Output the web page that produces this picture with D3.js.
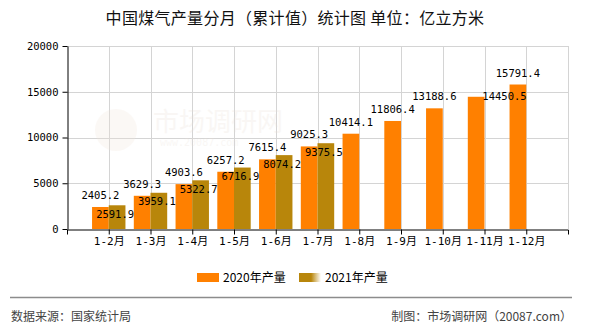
<!DOCTYPE html>
<html>
<head>
<meta charset="utf-8">
<script src="https://cdn.jsdelivr.net/npm/d3@7"></script>
<style>
  html, body { margin: 0; padding: 0; background: #fff; }
  svg { display: block; }
</style>
</head>
<body>
<svg id="chart" width="590" height="330"></svg>
<script>
const categories = ["1-2月","1-3月","1-4月","1-5月","1-6月","1-7月","1-8月","1-9月","1-10月","1-11月","1-12月"];
const values2020 = [2405.2,3629.3,4903.6,6257.2,7615.4,9025.3,10414.1,11806.4,13188.6,14450.5,15791.4];
const values2021 = [2591.9,3959.1,5322.7,6716.9,8074.2,9375.5];
const seriesNames = ["2020年产量","2021年产量"];
const yTicks = [0,5000,10000,15000,20000];
const titleText = "中国煤气产量分月（累计值）统计图 单位：亿立方米";
const sourceText = "数据来源：国家统计局";
const creditText = "制图：市场调研网（20087.com）";

(function () {
const colors = ["#FF8000", "#B8860B"];
const monoFont = "'DejaVu Sans Mono','Liberation Mono','Noto Sans CJK SC',monospace";
const cjkFont = "'Noto Sans CJK SC','DejaVu Sans',sans-serif";

const svg = d3.select("#chart");
const pL = 67, pR = 568, pT = 46, pB = 229;

const x = d3.scalePoint().domain(categories).range([pL, pR]).padding(1);
const y = d3.scaleLinear().domain([0, 20000]).range([pB, pT]);
const bw = x.step() * 0.4;

// defs
const defs = svg.append("defs");
const grad = defs.append("linearGradient").attr("id", "legGrad");
grad.append("stop").attr("offset", "0%").attr("stop-color", colors[1]);
grad.append("stop").attr("offset", "55%").attr("stop-color", colors[1]);
grad.append("stop").attr("offset", "100%").attr("stop-color", "#ffffff");

// title
svg.append("text").attr("x", 295).attr("y", 24).attr("text-anchor", "middle")
  .style("font-family", cjkFont).style("font-size", "16px").style("letter-spacing", "0.3px")
  .attr("fill", "#111").text(titleText);

// grid
const grid = svg.append("g").attr("stroke", "#d4d4d4").attr("stroke-width", 1);
yTicks.filter(t => t > 0).forEach(t => {
  grid.append("line").attr("x1", pL).attr("x2", pR)
    .attr("y1", Math.round(y(t)) + 0.5).attr("y2", Math.round(y(t)) + 0.5);
});
categories.forEach(c => {
  const xx = Math.round(x(c)) + 0.5;
  grid.append("line").attr("x1", xx).attr("x2", xx).attr("y1", pT).attr("y2", pB);
});
grid.append("line").attr("x1", pR + 0.5).attr("x2", pR + 0.5).attr("y1", pT).attr("y2", pB);

// watermark
const wm = svg.append("g").attr("opacity", 0.25);
wm.append("circle").attr("cx", 116).attr("cy", 130).attr("r", 21).attr("fill", "#f3e6da");
wm.append("text").attr("x", 153).attr("y", 131).style("font-family", cjkFont)
  .style("font-size", "26px").attr("fill", "#eadfd6").text("市场调研网");
wm.append("text").attr("x", 160).attr("y", 146).style("font-family", monoFont)
  .style("font-size", "10px").attr("fill", "#eadfd6").text("www.20087.com");

// bars
svg.append("g").selectAll("rect").data(values2020).join("rect")
  .attr("x", (d, i) => x(categories[i]) - bw)
  .attr("y", d => y(d)).attr("width", bw).attr("height", d => pB - y(d))
  .attr("fill", colors[0]);
svg.append("g").selectAll("rect").data(values2021).join("rect")
  .attr("x", (d, i) => x(categories[i]))
  .attr("y", d => y(d)).attr("width", bw).attr("height", d => pB - y(d))
  .attr("fill", colors[1]);

// axes
const yAxis = svg.append("g").attr("transform", `translate(${pL + 0.5},0)`)
  .call(d3.axisLeft(y).tickValues(yTicks).tickFormat(d3.format("d")).tickSize(5).tickSizeOuter(0).tickPadding(4));
const xAxis = svg.append("g").attr("transform", `translate(0,${pB + 0.5})`)
  .call(d3.axisBottom(x).tickSize(5).tickSizeOuter(5).tickPadding(3));
[yAxis, xAxis].forEach(a => {
  a.selectAll("path,line").attr("stroke", "#000");
  a.selectAll("text").style("font-family", monoFont).attr("fill", "#000");
});
yAxis.selectAll("text").style("font-size", "10.5px");
xAxis.selectAll("text").style("font-size", "11px");

// value labels
const lab = svg.append("g").style("font-family", monoFont).style("font-size", "10.5px")
  .attr("fill", "#000").attr("text-anchor", "middle");
values2020.forEach((d, i) => {
  let lx = x(categories[i]) - bw / 2, ly = y(d) - 8;
  if (i === 9) { lx = x(categories[i]) + 20; ly = y(d) + 3; }
  lab.append("text").attr("x", lx).attr("y", ly).text(d.toFixed(1));
});
values2021.forEach((d, i) => {
  lab.append("text").attr("x", x(categories[i]) + bw / 2 - 2).attr("y", y(d) + 12.5).text(d.toFixed(1));
});

// legend
const leg = svg.append("g");
leg.append("rect").attr("x", 197).attr("y", 273).attr("width", 22).attr("height", 9).attr("fill", colors[0]);
leg.append("text").attr("x", 223).attr("y", 282).style("font-family", cjkFont).style("font-size", "12px")
  .attr("fill", "#000").text(seriesNames[0]);
leg.append("rect").attr("x", 299).attr("y", 273).attr("width", 22).attr("height", 9).attr("fill", "url(#legGrad)");
leg.append("text").attr("x", 325).attr("y", 282).style("font-family", cjkFont).style("font-size", "12px")
  .attr("fill", "#000").text(seriesNames[1]);

// footer
svg.append("line").attr("x1", 10).attr("x2", 572).attr("y1", 297.5).attr("y2", 297.5)
  .attr("stroke", "#8c8c8c").attr("stroke-width", 1.5);
svg.append("text").attr("x", 11).attr("y", 321).style("font-family", cjkFont).style("font-size", "12px")
  .attr("fill", "#444").text(sourceText);
svg.append("text").attr("x", 572).attr("y", 321).attr("text-anchor", "end").style("font-family", cjkFont)
  .style("font-size", "12px").attr("fill", "#444").text(creditText);
})();
</script>
</body>
</html>
